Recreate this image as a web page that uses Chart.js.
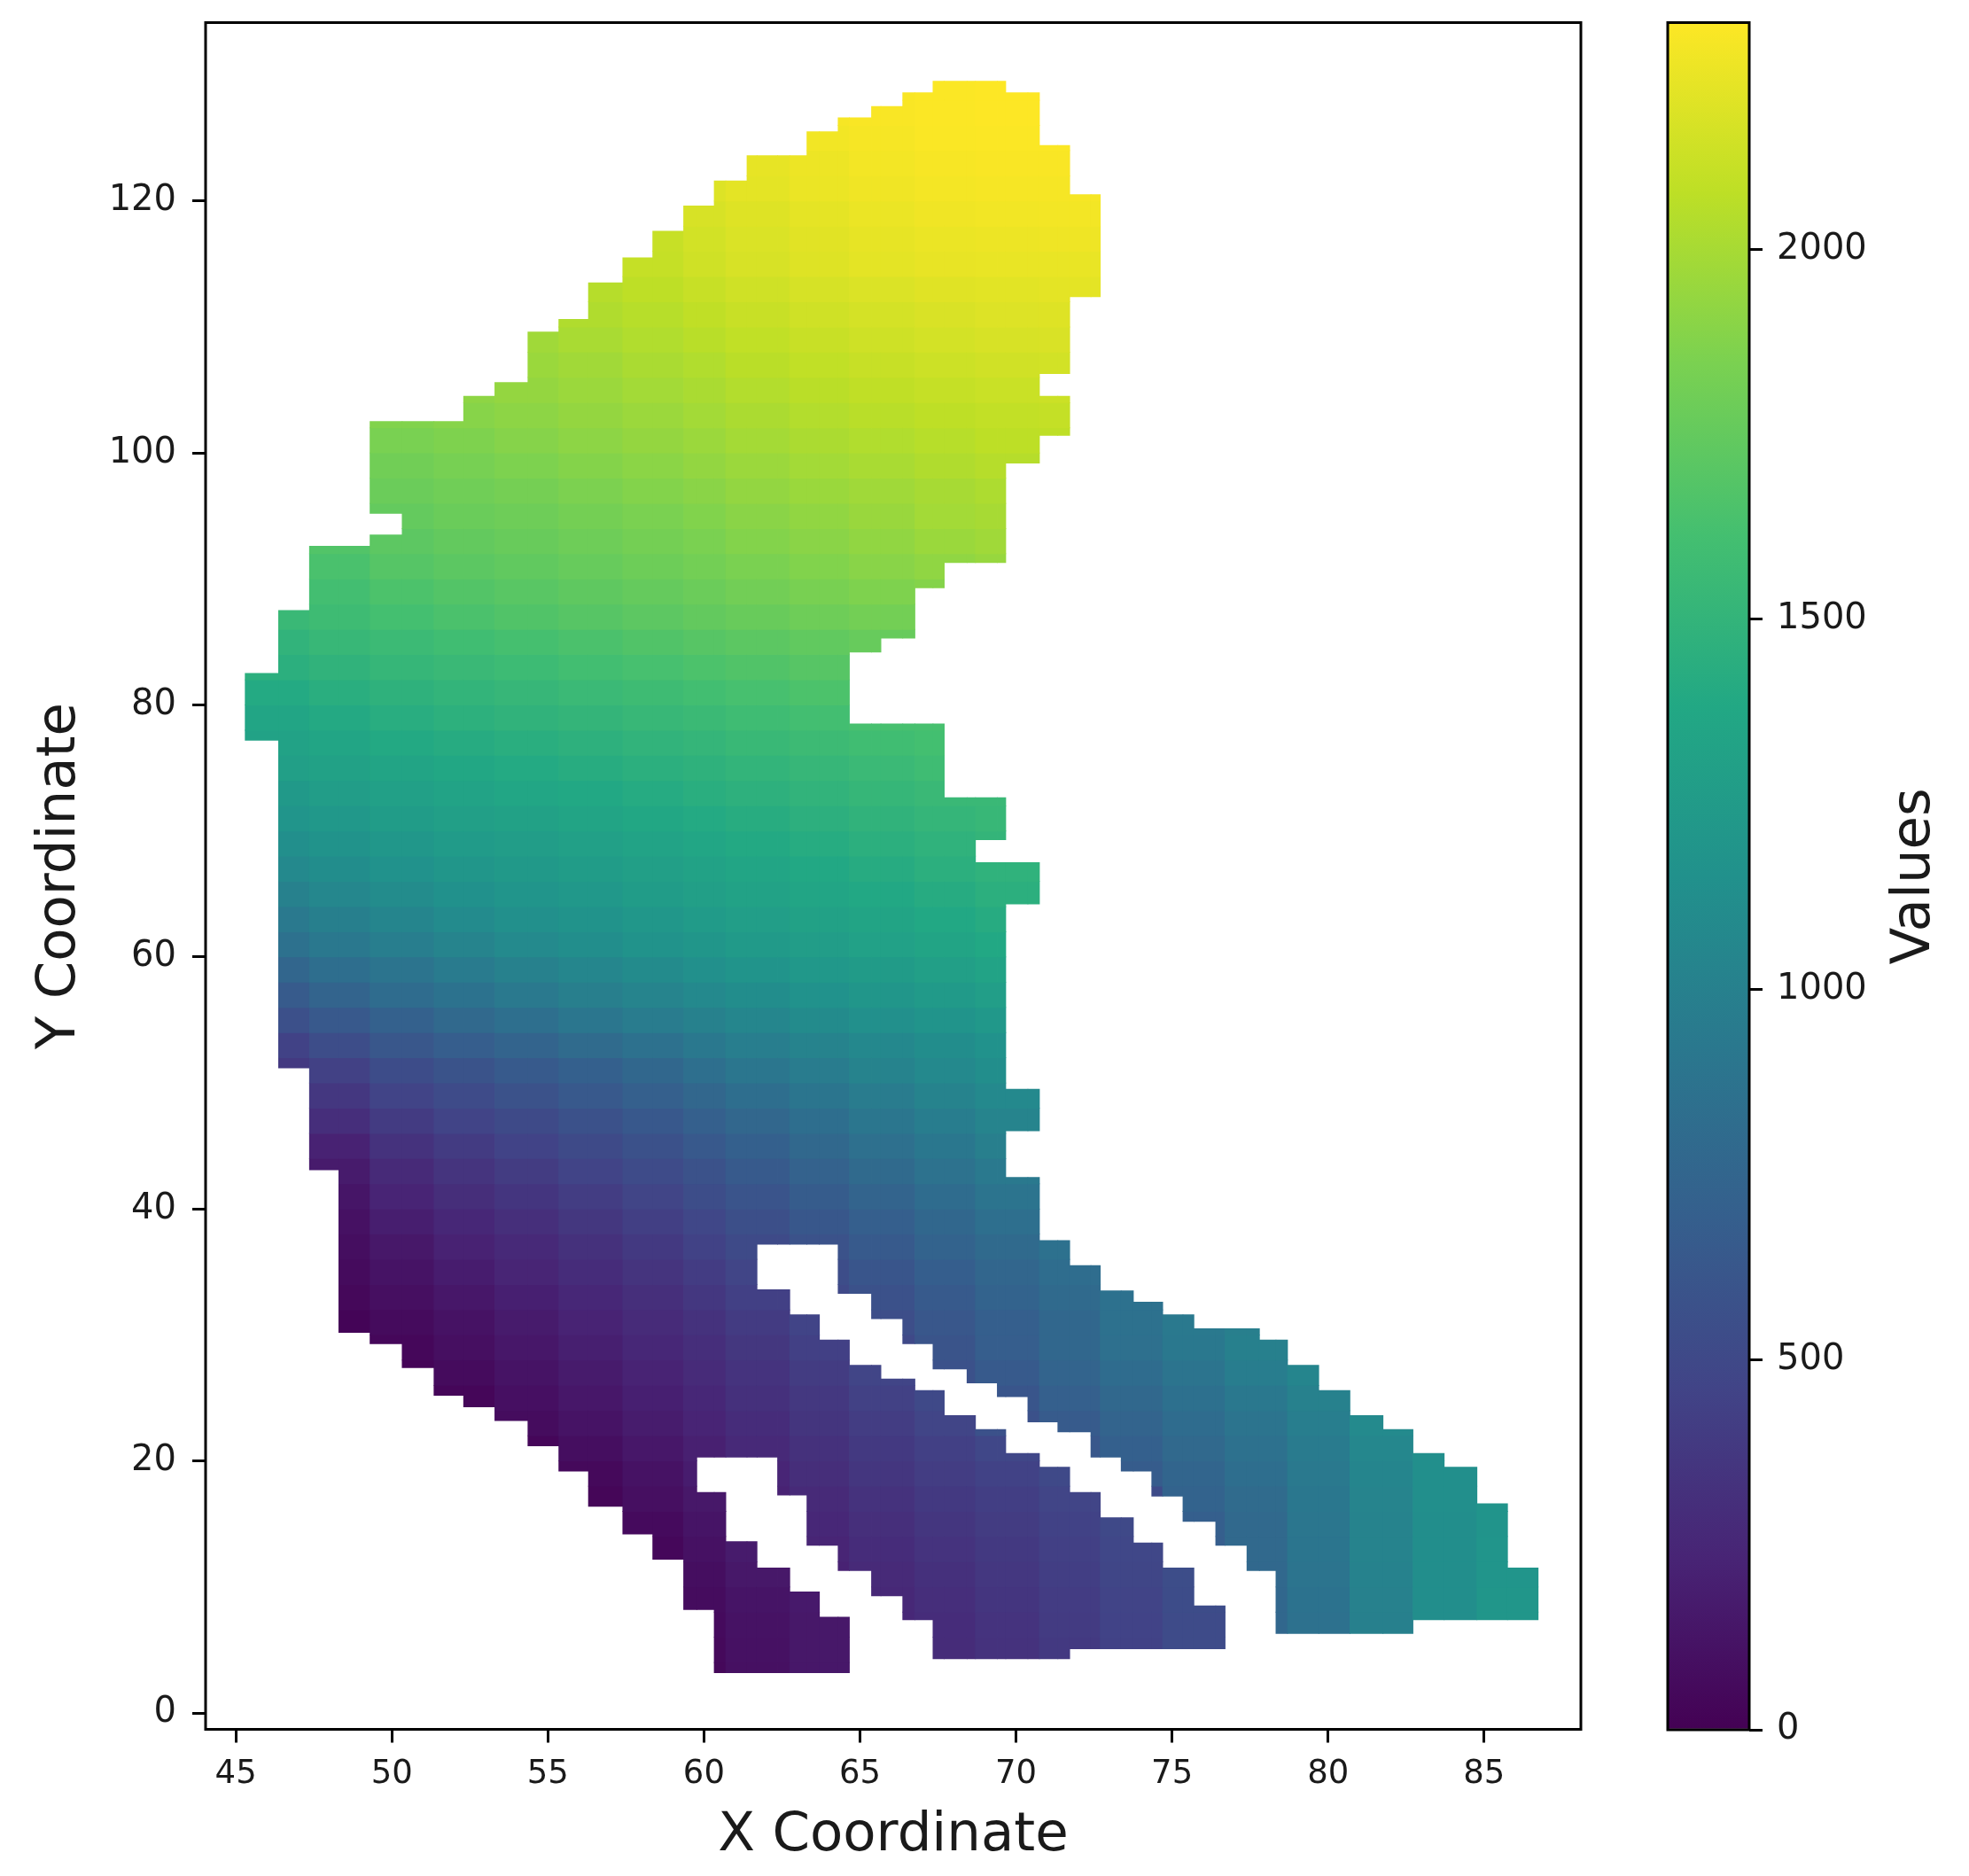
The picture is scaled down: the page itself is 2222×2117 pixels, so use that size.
<!DOCTYPE html>
<html>
<head>
<meta charset="utf-8">
<title>Values by coordinate</title>
<script src="https://cdn.jsdelivr.net/npm/chart.js@4/dist/chart.umd.js"></script>
<style>
  html, body { margin: 0; background: #fff; }
  canvas { position: absolute; top: 0; }
  #heat { left: 0; }
  #bar { left: 1800px; }
</style>
</head>
<body>
<canvas id="heat" width="1800" height="2117"></canvas>
<canvas id="bar" width="422" height="2117"></canvas>
<script>
const xTicks = [45, 50, 55, 60, 65, 70, 75, 80, 85];
const yTicks = [0, 20, 40, 60, 80, 100, 120];
const barTicks = [0, 500, 1000, 1500, 2000];
const valueMax = 2306;

// x edges of the vertical strips of the mesh, and the filled y ranges in each strip
const stripEdges = [45.3, 46.37, 47.36, 48.3, 49.3, 50.33, 51.35, 52.3, 53.3, 54.36, 55.35, 56.3, 57.4, 58.36, 59.35,
  59.77, 60.33, 60.7, 61.38, 61.7, 62.36, 62.75, 63.3, 63.7, 64.3, 64.66, 65.37, 65.67, 66.37, 66.76, 67.34, 67.7,
  68.43, 68.7, 69.4, 69.67, 70.38, 70.75, 71.34, 71.72, 72.4, 72.7, 73.37, 73.76, 74.35, 74.7, 75.35, 75.7, 76.4,
  76.7, 77.4, 77.8, 78.33, 78.7, 79.7, 80.7, 81.76, 82.72, 83.72, 84.77, 85.75, 86.73];
const stripSpans = [
  [[77.2, 82.5]],
  [[51.2, 87.5]],
  [[43.1, 92.6]],
  [[30.2, 92.6]],
  [[29.3, 93.5], [95.2, 102.5]],
  [[27.4, 102.5]],
  [[25.2, 102.5]],
  [[24.3, 104.5]],
  [[23.2, 105.6]],
  [[21.2, 109.6]],
  [[19.2, 110.6]],
  [[16.4, 113.5]],
  [[14.2, 115.5]],
  [[12.2, 117.6]],
  [[8.2, 119.6]],
  [[8.2, 17.5], [20.3, 119.6]],
  [[3.2, 17.5], [20.3, 121.6]],
  [[3.2, 13.6], [20.3, 121.6]],
  [[3.2, 13.6], [20.3, 123.6]],
  [[3.2, 11.5], [20.3, 33.6], [37.2, 123.6]],
  [[3.2, 11.5], [17.3, 33.6], [37.2, 123.6]],
  [[3.2, 9.6], [17.3, 31.6], [37.2, 123.6]],
  [[3.2, 9.6], [13.3, 31.6], [37.2, 125.5]],
  [[3.2, 7.6], [13.3, 29.6], [37.2, 125.5]],
  [[3.2, 7.6], [11.3, 29.6], [33.3, 126.6]],
  [[11.3, 27.6], [33.3, 78.5], [84.2, 126.6]],
  [[9.3, 27.6], [31.3, 78.5], [84.2, 127.5]],
  [[9.3, 26.5], [31.3, 78.5], [85.3, 127.5]],
  [[7.4, 26.5], [29.3, 78.5], [85.3, 128.6]],
  [[7.4, 25.6], [29.3, 78.5], [89.3, 128.6]],
  [[4.3, 25.6], [27.3, 78.5], [89.3, 129.5]],
  [[4.3, 23.6], [27.3, 72.65], [91.3, 129.5]],
  [[4.3, 23.6], [26.2, 72.65], [91.3, 129.5]],
  [[4.3, 22.5], [26.2, 67.5], [69.3, 72.65], [91.3, 129.5]],
  [[4.3, 22.5], [25.1, 67.5], [69.3, 72.65], [91.3, 129.5]],
  [[4.3, 20.6], [25.1, 42.5], [46.2, 49.5], [64.2, 67.5], [99.2, 128.6]],
  [[4.3, 20.6], [23.1, 42.5], [46.2, 49.5], [64.2, 67.5], [99.2, 128.6]],
  [[4.3, 19.5], [23.1, 37.5], [101.4, 104.5], [106.3, 124.4]],
  [[4.3, 19.5], [22.3, 37.5], [101.4, 104.5], [106.3, 124.4]],
  [[5.1, 17.5], [22.3, 35.5], [112.4, 120.5]],
  [[5.1, 17.5], [20.3, 35.5], [112.4, 120.5]],
  [[5.1, 15.5], [20.3, 33.5]],
  [[5.1, 15.5], [19.2, 33.5]],
  [[5.1, 13.5], [19.2, 32.6]],
  [[5.1, 13.5], [17.2, 32.6]],
  [[5.1, 11.5], [17.2, 31.6]],
  [[5.1, 11.5], [15.2, 31.6]],
  [[5.1, 8.5], [15.2, 30.5]],
  [[5.1, 8.5], [13.3, 30.5]],
  [[13.3, 30.5]],
  [[11.3, 30.5]],
  [[11.3, 29.6]],
  [[6.3, 29.6]],
  [[6.3, 27.6]],
  [[6.3, 25.6]],
  [[6.3, 23.6]],
  [[6.3, 22.5]],
  [[7.4, 20.6]],
  [[7.4, 19.5]],
  [[7.4, 16.6]],
  [[7.4, 11.5]]
];

// values: one row per 2 y units, one entry per 2 x units from rowFirstX
const rowY = [3, 5, 7, 9, 11, 13, 15, 17, 19, 21, 23, 25, 27, 29, 31, 33, 35, 37, 39, 41, 43, 45, 47, 49, 51, 53, 55, 57,
  59, 61, 63, 65, 67, 69, 71, 73, 75, 77, 79, 81, 83, 85, 87, 89, 91, 93, 95, 97, 99, 101, 103, 105, 107, 109, 111,
  113, 115, 117, 119, 121, 123, 125, 127, 129];
const rowFirstX = [60, 60, 60, 60, 60, 58, 58, 56, 56, 54, 54, 52, 50, 50, 48, 48, 48, 48, 48, 48, 48, 48, 48, 48, 46, 46, 46, 46,
  46, 46, 46, 46, 46, 46, 46, 46, 46, 46, 46, 46, 46, 46, 46, 48, 48, 48, 50, 50, 50, 50, 50, 52, 52, 54, 54,
  54, 56, 56, 58, 60, 60, 62, 64, 66];
const rowValues = [
  [45, 100, 145],
  [50, 105, 150, 240, 285, 330, 385, 450, 520],
  [60, 110, 150, 250, 290, 340, 395, 455, 525, 770, 860, 1000, 1125, 1200],
  [70, 125, 160, 260, 305, 355, 405, 465, 530, 770, 870, 1005, 1125, 1200],
  [85, 150, 220, 275, 320, 370, 420, 480, 540, 775, 885, 1015, 1125, 1195],
  [40, 105, 170, 235, 290, 340, 385, 435, 490, 680, 780, 895, 1020, 1125, 1190],
  [60, 125, 190, 255, 310, 360, 400, 450, 505, 690, 785, 905, 1025, 1125, 1185],
  [30, 90, 150, 215, 275, 335, 385, 420, 470, 520, 730, 800, 915, 1035, 1130, 1180],
  [50, 115, 180, 240, 300, 360, 410, 445, 500, 670, 745, 830, 930, 1045, 1130, 1180],
  [35, 85, 145, 205, 265, 325, 385, 435, 490, 620, 705, 780, 860, 950, 1060, 1130],
  [70, 120, 175, 230, 290, 350, 410, 470, 570, 660, 740, 815, 890, 975, 1085],
  [35, 95, 145, 200, 255, 315, 375, 440, 500, 610, 700, 775, 850, 925, 1005, 1075],
  [20, 65, 120, 170, 225, 280, 340, 400, 470, 570, 650, 735, 810, 890, 965, 1040],
  [40, 90, 145, 195, 250, 305, 365, 430, 500, 595, 680, 770, 845, 925, 1000, 1060],
  [20, 65, 115, 170, 225, 280, 335, 395, 465, 545, 620, 695, 770, 860, 930, 985],
  [45, 90, 145, 200, 255, 310, 370, 430, 500, 575, 650, 725, 795, 860],
  [65, 120, 180, 235, 290, 345, 405, 470, 535, 610, 685, 760, 825],
  [85, 150, 215, 270, 325, 385, 445, 510, 580, 650, 725, 795, 855],
  [105, 190, 255, 310, 365, 425, 490, 555, 625, 695, 770, 840],
  [130, 230, 300, 355, 410, 470, 535, 600, 670, 740, 815, 885],
  [170, 275, 345, 400, 460, 520, 585, 650, 720, 790, 865, 935],
  [220, 330, 395, 455, 515, 575, 640, 705, 775, 845, 915, 985],
  [305, 395, 460, 515, 575, 635, 700, 765, 830, 900, 965, 1030],
  [370, 460, 520, 580, 640, 700, 765, 830, 895, 960, 1020, 1075],
  [380, 440, 530, 590, 650, 705, 770, 840, 900, 960, 1020, 1075, 1125],
  [450, 540, 620, 680, 740, 800, 860, 925, 975, 1020, 1070, 1120, 1165],
  [560, 640, 710, 780, 840, 900, 955, 1005, 1055, 1100, 1140, 1185, 1225],
  [660, 740, 810, 870, 930, 985, 1035, 1080, 1120, 1160, 1200, 1240, 1280],
  [760, 830, 890, 950, 1005, 1055, 1100, 1140, 1180, 1220, 1255, 1290, 1330],
  [860, 920, 980, 1035, 1085, 1125, 1170, 1205, 1240, 1275, 1310, 1345, 1380],
  [930, 990, 1045, 1095, 1140, 1175, 1215, 1250, 1280, 1315, 1345, 1380, 1415],
  [1005, 1060, 1110, 1150, 1190, 1225, 1260, 1290, 1320, 1350, 1385, 1415, 1450],
  [1080, 1120, 1165, 1205, 1235, 1265, 1295, 1325, 1355, 1385, 1415, 1450, 1480],
  [1130, 1175, 1215, 1250, 1275, 1305, 1330, 1360, 1390, 1420, 1450, 1480, 1505],
  [1190, 1225, 1260, 1290, 1315, 1345, 1370, 1400, 1425, 1455, 1485, 1515, 1535],
  [1235, 1270, 1305, 1335, 1360, 1385, 1410, 1440, 1465, 1490, 1520, 1545],
  [1290, 1315, 1345, 1375, 1400, 1425, 1450, 1475, 1500, 1525, 1550, 1580],
  [1320, 1355, 1390, 1415, 1440, 1465, 1490, 1515, 1540, 1565, 1590, 1610],
  [1355, 1395, 1430, 1460, 1485, 1505, 1530, 1555, 1580, 1605, 1625],
  [1400, 1440, 1475, 1500, 1525, 1550, 1575, 1600, 1625, 1650, 1670],
  [1450, 1485, 1520, 1545, 1570, 1600, 1625, 1650, 1670, 1695, 1720],
  [1490, 1530, 1560, 1590, 1620, 1645, 1670, 1695, 1715, 1740, 1765],
  [1545, 1575, 1615, 1645, 1670, 1695, 1720, 1745, 1770, 1795, 1815],
  [1605, 1650, 1680, 1705, 1730, 1755, 1780, 1810, 1835, 1860, 1880],
  [1640, 1690, 1715, 1740, 1765, 1790, 1815, 1845, 1870, 1895, 1920, 1945],
  [1675, 1720, 1745, 1770, 1795, 1820, 1845, 1875, 1900, 1925, 1955, 1975],
  [1750, 1775, 1795, 1820, 1845, 1870, 1900, 1925, 1950, 1985, 2000],
  [1780, 1800, 1825, 1850, 1875, 1900, 1930, 1955, 1975, 2000, 2020],
  [1805, 1830, 1855, 1880, 1905, 1930, 1960, 1985, 2005, 2030, 2050, 2055],
  [1840, 1860, 1885, 1910, 1935, 1960, 1990, 2015, 2035, 2055, 2075, 2080],
  [1870, 1890, 1910, 1935, 1960, 1985, 2015, 2040, 2060, 2080, 2095, 2100],
  [1915, 1935, 1960, 1985, 2010, 2040, 2065, 2085, 2105, 2120, 2125],
  [1935, 1955, 1980, 2010, 2035, 2065, 2090, 2110, 2130, 2145, 2150],
  [1975, 2005, 2035, 2060, 2090, 2115, 2135, 2155, 2170, 2175],
  [2000, 2030, 2055, 2085, 2115, 2140, 2160, 2175, 2190, 2195],
  [2025, 2050, 2080, 2110, 2140, 2165, 2185, 2200, 2210, 2215],
  [2080, 2105, 2140, 2170, 2195, 2215, 2230, 2235, 2235],
  [2080, 2110, 2150, 2180, 2205, 2225, 2240, 2250, 2255],
  [2130, 2170, 2195, 2220, 2240, 2260, 2265, 2270],
  [2190, 2215, 2240, 2260, 2275, 2280, 2280],
  [2200, 2225, 2250, 2270, 2285, 2290, 2290],
  [2250, 2265, 2280, 2295, 2300, 2300],
  [2280, 2290, 2300, 2305],
  [2290, 2300, 2305]
];

const viridis = ['#440154', '#482475', '#414487', '#355f8d', '#2a788e', '#21918c', '#22a884', '#44bf70', '#7ad151', '#bddf26', '#fde725'];
const textColor = '#1a1a1a';
const xTickFont = { family: '"DejaVu Sans"', size: 37 };
const yTickFont = { family: '"DejaVu Sans"', size: 40 };
const titleFont = { family: '"DejaVu Sans"', size: 61 };

function hexRgb(h) {
  return [1, 3, 5].map(i => parseInt(h.substr(i, 2), 16));
}
function colorFor(v) {
  const t = Math.min(Math.max(v / valueMax, 0), 1) * (viridis.length - 1);
  const i = Math.min(Math.floor(t), viridis.length - 2);
  const a = hexRgb(viridis[i]), b = hexRgb(viridis[i + 1]), f = t - i;
  return 'rgb(' + a.map((c, k) => Math.round(c + (b[k] - c) * f)).join(',') + ')';
}

function lookup(xc, rowIndex) {
  const row = rowValues[rowIndex];
  const c = Math.round((xc - rowFirstX[rowIndex]) / 2);
  return row[Math.max(0, Math.min(row.length - 1, c))];
}

// every strip span is cut on the 2 unit value rows
const cells = [];
stripSpans.forEach((spans, s) => {
  const x0 = stripEdges[s], x1 = stripEdges[s + 1], xc = (x0 + x1) / 2;
  spans.forEach(([lo, hi]) => {
    rowY.forEach((y, r) => {
      const a = Math.max(lo, y - 1), b = Math.min(hi, y + 1);
      if (b > a) cells.push({ x: xc, y: [a, b], w: x1 - x0, v: lookup(xc, r) });
    });
  });
});

// a bar that takes its own width from the data, the mesh strips are not evenly spaced
class CellController extends Chart.BarController {
  _calculateBarIndexPixels(index) {
    const raw = this.getDataset().data[index];
    const scale = this._cachedMeta.iScale;
    const p0 = scale.getPixelForValue(raw.x - raw.w / 2);
    const p1 = scale.getPixelForValue(raw.x + raw.w / 2);
    return { base: p0, head: p1, center: (p0 + p1) / 2, size: p1 - p0 };
  }
}
CellController.id = 'cell';
Chart.register(CellController);

const frame = {
  id: 'frame',
  afterDraw(chart) {
    const a = chart.chartArea, ctx = chart.ctx;
    ctx.save();
    ctx.strokeStyle = '#000';
    ctx.lineWidth = 3;
    ctx.strokeRect(a.left, a.top, a.right - a.left, a.bottom - a.top);
    ctx.restore();
  }
};

function tickGrid() {
  return { offset: false, drawOnChartArea: false, drawTicks: true, tickLength: 15, tickColor: '#000', lineWidth: 3 };
}
function fixedTicks(values) {
  return scale => { scale.ticks = values.map(v => ({ value: v })); };
}
// the tick labels never reach the ends of the axes, so no room is kept for them
function noEdgePadding(s) {
  s.paddingTop = s.paddingBottom = s.paddingLeft = s.paddingRight = 0;
}

new Chart(document.getElementById('heat'), {
  type: 'cell',
  data: {
    datasets: [{
      label: 'Values',
      data: cells,
      backgroundColor: cells.map(c => colorFor(c.v)),
      borderWidth: 0,
      inflateAmount: 0.4,
      barPercentage: 1,
      categoryPercentage: 1
    }]
  },
  options: {
    responsive: false,
    animation: false,
    layout: { padding: { top: 25.5, right: 16 } },
    plugins: { legend: { display: false }, tooltip: { enabled: false } },
    scales: {
      x: {
        type: 'linear', min: 44.03, max: 88.1, offset: false,
        border: { display: false },
        grid: tickGrid(),
        afterBuildTicks: fixedTicks(xTicks),
        afterFit: s => { s.height = 165.5; noEdgePadding(s); },
        ticks: { color: textColor, font: xTickFont, padding: 14, maxRotation: 0, autoSkip: false },
        title: { display: true, text: 'X Coordinate', color: textColor, font: titleFont, padding: { top: 0, bottom: 8 } }
      },
      y: {
        type: 'linear', min: -1.3, max: 134.16,
        border: { display: false },
        grid: tickGrid(),
        afterBuildTicks: fixedTicks(yTicks),
        afterFit: s => { s.width = 232; noEdgePadding(s); },
        ticks: { color: textColor, font: yTickFont, padding: 18, autoSkip: false },
        title: { display: true, text: 'Y Coordinate', color: textColor, font: titleFont, padding: { top: 32, bottom: 0 } }
      }
    }
  },
  plugins: [frame]
});

const barLabel = {
  id: 'barLabel',
  afterDraw(chart) {
    const ctx = chart.ctx, a = chart.chartArea;
    ctx.save();
    ctx.translate(361, (a.top + a.bottom) / 2);
    ctx.rotate(-Math.PI / 2);
    ctx.fillStyle = textColor;
    ctx.font = titleFont.size + 'px ' + titleFont.family;
    ctx.textAlign = 'center';
    ctx.textBaseline = 'middle';
    ctx.fillText('Values', 0, 0);
    ctx.restore();
  }
};

function barGradient(ctx) {
  const a = ctx.chart.chartArea;
  if (!a) return viridis[0];
  const g = ctx.chart.ctx.createLinearGradient(0, a.bottom, 0, a.top);
  viridis.forEach((c, i) => g.addColorStop(i / (viridis.length - 1), c));
  return g;
}

new Chart(document.getElementById('bar'), {
  type: 'bar',
  data: {
    labels: ['Values'],
    datasets: [{ data: [[0, valueMax]], backgroundColor: barGradient, borderWidth: 0, barPercentage: 1, categoryPercentage: 1 }]
  },
  options: {
    responsive: false,
    animation: false,
    layout: { padding: { left: 82, top: 25.5, bottom: 165 } },
    plugins: { legend: { display: false }, tooltip: { enabled: false } },
    scales: {
      x: { display: false },
      y: {
        position: 'right', min: 0, max: valueMax,
        border: { display: false },
        grid: tickGrid(),
        afterBuildTicks: fixedTicks(barTicks),
        afterFit: s => { s.width = 248; noEdgePadding(s); },
        ticks: { color: textColor, font: yTickFont, padding: 16, autoSkip: false, callback: v => String(v) }
      }
    }
  },
  plugins: [frame, barLabel]
});
</script>
</body>
</html>
